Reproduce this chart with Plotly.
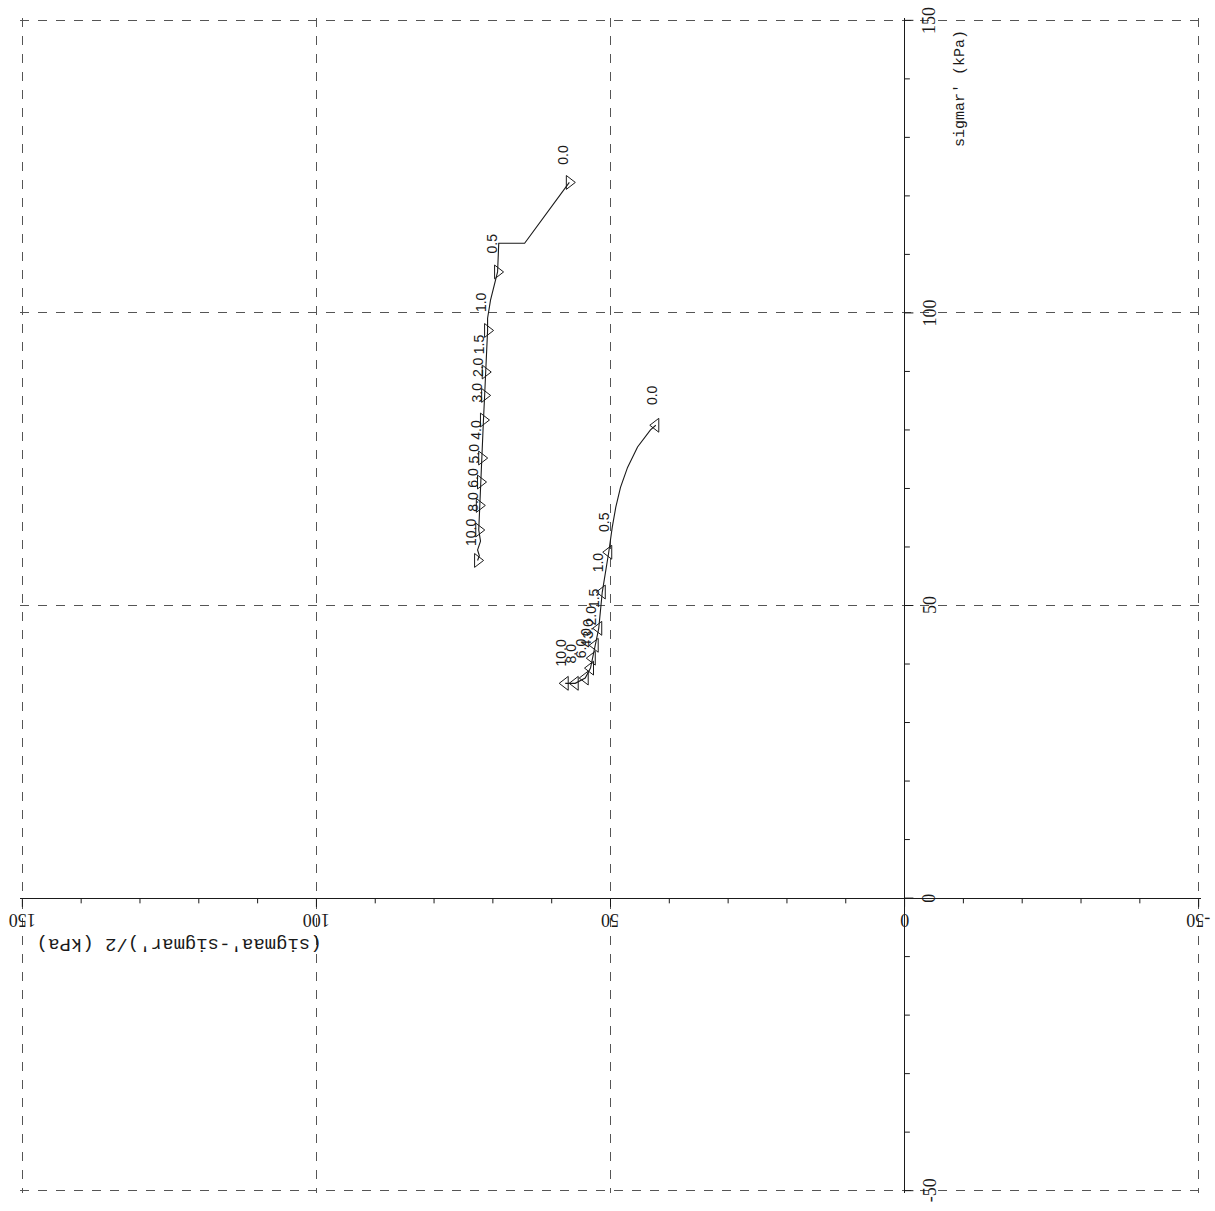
import plotly.graph_objects as go

# ---------------- data ----------------
# horizontal axis: (sigmaa'-sigmar')/2 (kPa), vertical axis: sigmar' (kPa)
x_tick_vals = [150, 100, 50, 0, -50]
x_tick_text = ["150", "100", "50", "0", "-50"]
y_tick_vals = [150, 100, 50, 0, -50]
y_tick_text = ["150", "100", "50", "0", "-50"]
minor_tick_vals = [150, 140, 130, 120, 110, 100, 90, 80, 70, 60, 50, 40, 30, 20, 10,
                   0, -10, -20, -30, -40, -50]

# upper test path
upper_path_q = [57.0, 64.6, 69.0, 69.2, 70.4, 70.9, 70.9, 71.3, 71.4, 71.6, 71.9, 72.1, 72.3, 72.4, 72.1, 72.6, 72.3, 72.6]
upper_path_s = [122.3, 111.9, 111.9, 107.0, 102.2, 99.1, 97.0, 89.9, 85.9, 81.7, 75.2, 71.1, 67.1, 62.9, 61.0, 59.5, 58.5, 57.7]
upper_mark_q = [57.0, 69.2, 70.9, 71.3, 71.4, 71.6, 71.9, 72.1, 72.3, 72.4, 72.6]
upper_mark_s = [122.3, 107.0, 97.0, 89.9, 85.9, 81.7, 75.2, 71.1, 67.1, 62.9, 57.7]
upper_labels = ["0.0", "0.5", "1.0", "1.5", "2.0", "3.0", "4.0", "5.0", "6.0", "8.0", "10.0"]

# lower test path
lower_path_q = [42.3, 43.2, 45.4, 47.1, 48.3, 49.1, 49.7, 50.3, 51.4, 52.0, 52.6, 53.1, 53.4, 54.3, 56.0, 57.7]
lower_path_s = [80.8, 80.0, 77.1, 73.6, 70.2, 66.8, 63.4, 59.1, 52.3, 46.1, 43.2, 41.0, 39.3, 37.6, 36.7, 36.7]
lower_mark_q = [42.3, 50.3, 51.4, 52.0, 52.6, 53.1, 53.4, 54.3, 56.0, 57.7]
lower_mark_s = [80.8, 59.1, 52.3, 46.1, 43.2, 41.0, 39.3, 37.6, 36.7, 36.7]
lower_labels = ["0.0", "0.5", "1.0", "1.5", "2.0", "3.0", "4.0", "6.0", "8.0", "10.0"]

# ---------------- figure ----------------
fig = go.Figure()
ink = "#1a1a1a"

fig.add_trace(go.Scatter(x=upper_path_q, y=upper_path_s, mode="lines",
                         line=dict(color=ink, width=1.1), hoverinfo="skip", showlegend=False))
fig.add_trace(go.Scatter(x=upper_mark_q, y=upper_mark_s, mode="markers",
                         marker=dict(symbol="triangle-right-open", size=12, color=ink,
                                     line=dict(width=1, color=ink)), showlegend=False))
fig.add_trace(go.Scatter(x=lower_path_q, y=lower_path_s, mode="lines",
                         line=dict(color=ink, width=1.1), hoverinfo="skip", showlegend=False))
fig.add_trace(go.Scatter(x=lower_mark_q, y=lower_mark_s, mode="markers",
                         marker=dict(symbol="triangle-left-open", size=12, color=ink,
                                     line=dict(width=1, color=ink)), showlegend=False))

annotations = []
label_font = dict(family="Liberation Sans", size=14, color=ink)
for q, s, t in zip(upper_mark_q, upper_mark_s, upper_labels):
    annotations.append(dict(x=q, y=s, xref="x", yref="y", text=t, showarrow=False,
                            textangle=-90, xshift=-6, yshift=28, font=label_font))
for q, s, t in zip(lower_mark_q, lower_mark_s, lower_labels):
    annotations.append(dict(x=q, y=s, xref="x", yref="y", text=t, showarrow=False,
                            textangle=-90, xshift=-4, yshift=30, font=label_font))

tick_font = dict(family="Liberation Serif", size=18, color=ink)
for v, t in zip(x_tick_vals, x_tick_text):
    annotations.append(dict(x=v, y=0, xref="x", yref="y", text=t, showarrow=False,
                            textangle=180, yshift=-22, font=tick_font))
for v, t in zip(y_tick_vals, y_tick_text):
    annotations.append(dict(x=0, y=v, xref="x", yref="y", text=t, showarrow=False,
                            textangle=-90, xshift=25, font=tick_font))

# axis titles
annotations.append(dict(x=0, y=150, xref="x", yref="y", text="sigmar' (kPa)", showarrow=False,
                        textangle=-90, xshift=56, yshift=-68,
                        font=dict(family="Liberation Mono", size=15, color=ink)))
annotations.append(dict(x=150, y=0, xref="x", yref="y", text="(sigmaa'-sigmar')/2 (kPa)",
                        showarrow=False, textangle=180, xshift=157, yshift=-46,
                        font=dict(family="Liberation Mono", size=19, color=ink)))

# axis ticks along the zero lines
shapes = []
for v in minor_tick_vals:
    L = 1.5 if v % 50 == 0 else 0.9
    shapes.append(dict(type="line", xref="x", yref="y", x0=v, x1=v, y0=0, y1=-L,
                       line=dict(color=ink, width=1)))
    shapes.append(dict(type="line", xref="x", yref="y", x0=0, x1=-L, y0=v, y1=v,
                       line=dict(color=ink, width=1)))

fig.update_layout(
    width=1215, height=1211,
    margin=dict(l=20, r=14, t=18, b=18),
    paper_bgcolor="white", plot_bgcolor="white",
    annotations=annotations, shapes=shapes,
    xaxis=dict(range=[150.4, -50.4], tickvals=x_tick_vals, showticklabels=False, ticks="",
               showgrid=True, gridcolor="#555", gridwidth=1, griddash="dash",
               zeroline=True, zerolinecolor=ink, zerolinewidth=1.3, showline=False),
    yaxis=dict(range=[-50.4, 150.4], tickvals=y_tick_vals, showticklabels=False, ticks="",
               showgrid=True, gridcolor="#555", gridwidth=1, griddash="dash",
               zeroline=True, zerolinecolor=ink, zerolinewidth=1.3, showline=False),
)

fig.write_html("out.html")
